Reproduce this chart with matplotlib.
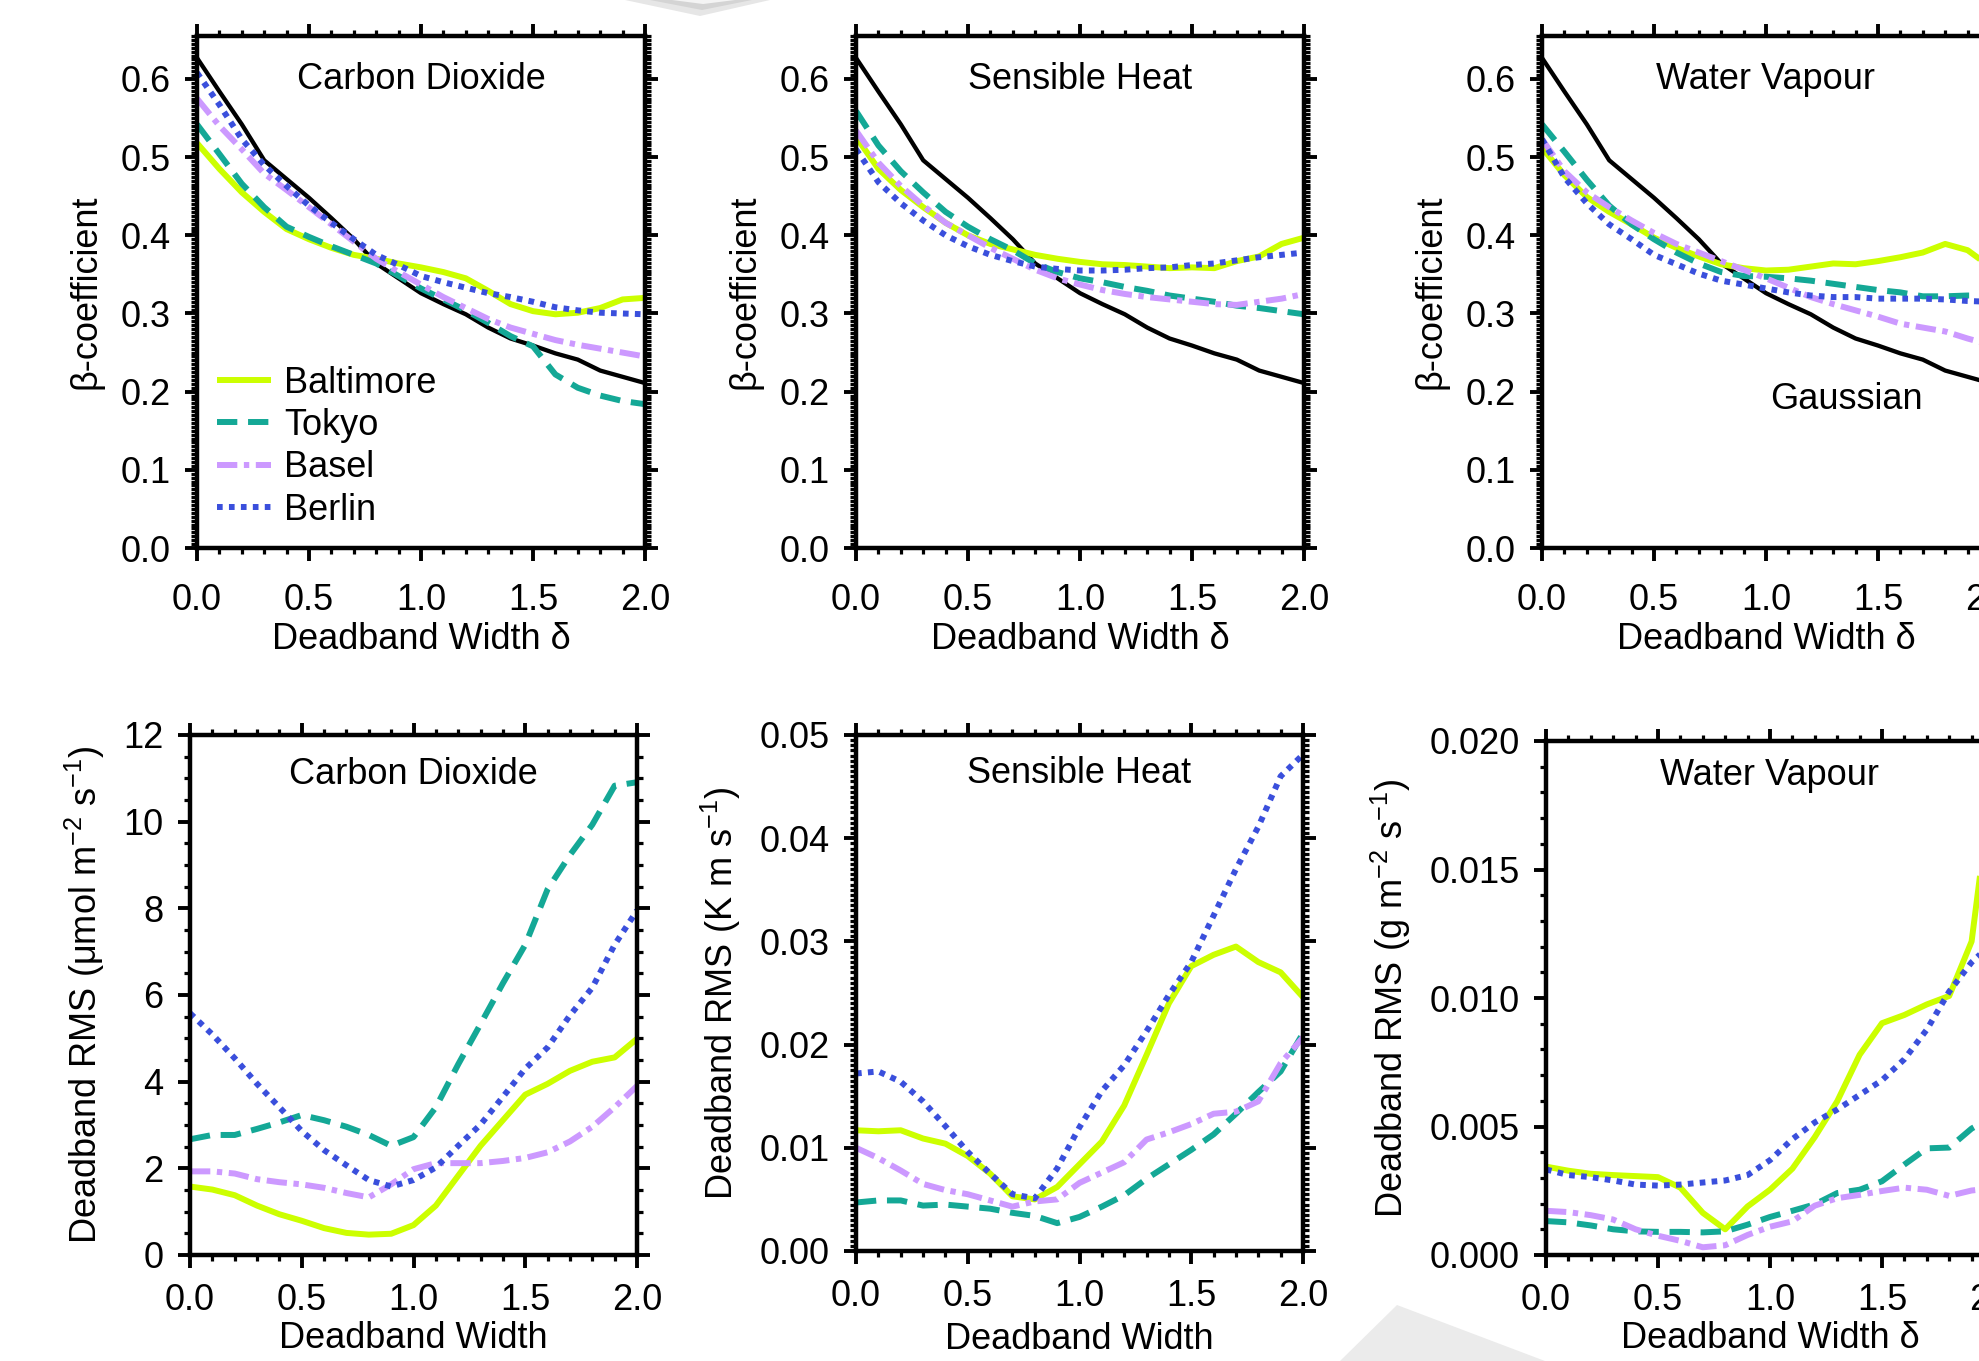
import matplotlib
matplotlib.use('Agg')
import matplotlib.pyplot as plt
from matplotlib.ticker import MultipleLocator, FormatStrFormatter
from matplotlib.patches import Polygon

plt.rcParams['font.family'] = ['Liberation Sans', 'DejaVu Sans']
plt.rcParams['mathtext.fontset'] = 'custom'
plt.rcParams['mathtext.rm'] = 'Liberation Sans'
plt.rcParams['mathtext.it'] = 'Liberation Sans:italic'
plt.rcParams['mathtext.default'] = 'regular'

# ---------------- data ----------------
deadband = [0.0, 0.1, 0.2, 0.3, 0.4, 0.5, 0.6, 0.7, 0.8, 0.9, 1.0,
            1.1, 1.2, 1.3, 1.4, 1.5, 1.6, 1.7, 1.8, 1.9, 2.0]

gaussian_beta = [0.627, 0.584, 0.542, 0.496, 0.472, 0.448, 0.422, 0.395, 0.364, 0.345, 0.326,
                 0.312, 0.299, 0.282, 0.268, 0.259, 0.249, 0.241, 0.227, 0.219, 0.211]

co2_beta_baltimore = [0.518, 0.485, 0.455, 0.430, 0.408, 0.395, 0.384, 0.375, 0.370, 0.364, 0.359,
                      0.353, 0.345, 0.329, 0.312, 0.303, 0.299, 0.301, 0.307, 0.318, 0.320]
co2_beta_tokyo = [0.542, 0.504, 0.466, 0.436, 0.411, 0.398, 0.386, 0.375, 0.364, 0.348, 0.332,
                  0.318, 0.304, 0.288, 0.271, 0.258, 0.222, 0.205, 0.195, 0.188, 0.184]
co2_beta_basel = [0.575, 0.540, 0.510, 0.479, 0.458, 0.436, 0.414, 0.392, 0.370, 0.353, 0.337,
                  0.321, 0.307, 0.293, 0.282, 0.274, 0.266, 0.260, 0.255, 0.250, 0.245]
co2_beta_berlin = [0.608, 0.567, 0.523, 0.490, 0.463, 0.438, 0.416, 0.395, 0.375, 0.362, 0.348,
                   0.340, 0.333, 0.326, 0.321, 0.315, 0.308, 0.304, 0.301, 0.300, 0.299]

sh_beta_baltimore = [0.526, 0.485, 0.458, 0.436, 0.416, 0.400, 0.389, 0.382, 0.375, 0.370, 0.366,
                     0.363, 0.362, 0.360, 0.358, 0.359, 0.358, 0.367, 0.373, 0.389, 0.397]
sh_beta_tokyo = [0.559, 0.515, 0.482, 0.455, 0.430, 0.411, 0.395, 0.381, 0.364, 0.353, 0.345,
                 0.340, 0.334, 0.329, 0.323, 0.319, 0.315, 0.310, 0.307, 0.303, 0.299]
sh_beta_basel = [0.534, 0.493, 0.463, 0.438, 0.416, 0.400, 0.384, 0.370, 0.356, 0.345, 0.337,
                 0.330, 0.325, 0.321, 0.318, 0.315, 0.312, 0.311, 0.315, 0.319, 0.325]
sh_beta_berlin = [0.510, 0.468, 0.441, 0.419, 0.400, 0.386, 0.375, 0.367, 0.360, 0.357, 0.355,
                  0.355, 0.356, 0.358, 0.359, 0.362, 0.364, 0.368, 0.372, 0.375, 0.378]

wv_beta_baltimore = [0.512, 0.477, 0.449, 0.430, 0.414, 0.397, 0.384, 0.373, 0.363, 0.358, 0.355,
                     0.356, 0.360, 0.364, 0.363, 0.367, 0.372, 0.378, 0.389, 0.381, 0.360]
wv_beta_tokyo = [0.542, 0.507, 0.471, 0.438, 0.414, 0.395, 0.378, 0.364, 0.353, 0.348, 0.347,
                 0.345, 0.342, 0.338, 0.334, 0.330, 0.327, 0.322, 0.322, 0.323, 0.323]
wv_beta_basel = [0.523, 0.482, 0.455, 0.436, 0.419, 0.403, 0.389, 0.378, 0.367, 0.356, 0.345,
                 0.333, 0.321, 0.312, 0.304, 0.296, 0.287, 0.282, 0.277, 0.268, 0.260]
wv_beta_berlin = [0.523, 0.474, 0.441, 0.414, 0.395, 0.375, 0.363, 0.351, 0.342, 0.337, 0.332,
                  0.327, 0.323, 0.321, 0.321, 0.319, 0.319, 0.319, 0.318, 0.316, 0.315]

co2_rms_baltimore = [1.58, 1.51, 1.38, 1.14, 0.94, 0.79, 0.62, 0.51, 0.47, 0.49, 0.69,
                     1.14, 1.83, 2.52, 3.11, 3.70, 3.95, 4.25, 4.46, 4.56, 4.99]
co2_rms_tokyo = [2.67, 2.77, 2.77, 2.91, 3.06, 3.23, 3.11, 2.96, 2.77, 2.52, 2.72,
                 3.41, 4.40, 5.33, 6.27, 7.16, 8.44, 9.23, 9.93, 10.83, 10.91]
co2_rms_basel = [1.93, 1.93, 1.88, 1.75, 1.68, 1.63, 1.55, 1.43, 1.33, 1.63, 1.98,
                 2.12, 2.12, 2.12, 2.17, 2.24, 2.37, 2.62, 2.96, 3.41, 3.90]
co2_rms_berlin = [5.58, 5.09, 4.54, 3.95, 3.41, 2.86, 2.42, 2.07, 1.73, 1.58, 1.73,
                  2.02, 2.52, 3.01, 3.65, 4.30, 4.79, 5.53, 6.17, 7.16, 7.95]

sh_rms_baltimore = [0.0117, 0.0116, 0.0117, 0.0109, 0.0104, 0.0092, 0.0075, 0.0053, 0.0050, 0.0062, 0.0084,
                    0.0106, 0.0141, 0.0190, 0.0240, 0.0276, 0.0287, 0.0295, 0.0280, 0.0270, 0.0246]
sh_rms_tokyo = [0.0047, 0.0049, 0.0049, 0.0044, 0.0045, 0.0043, 0.0041, 0.0037, 0.0034, 0.0027, 0.0033,
                0.0043, 0.0054, 0.0070, 0.0084, 0.0098, 0.0113, 0.0133, 0.0154, 0.0174, 0.0211]
sh_rms_basel = [0.0100, 0.0090, 0.0078, 0.0065, 0.0059, 0.0055, 0.0049, 0.0043, 0.0048, 0.0050, 0.0066,
                0.0076, 0.0086, 0.0108, 0.0115, 0.0123, 0.0133, 0.0135, 0.0145, 0.0182, 0.0207]
sh_rms_berlin = [0.0172, 0.0174, 0.0164, 0.0145, 0.0121, 0.0096, 0.0075, 0.0055, 0.0051, 0.0080, 0.0120,
                 0.0155, 0.0180, 0.0213, 0.0248, 0.0280, 0.0325, 0.0370, 0.0411, 0.0460, 0.0481]

wv_rms_baltimore = [0.00344, 0.00328, 0.00316, 0.00311, 0.00307, 0.00303, 0.00262, 0.00164, 0.00100, 0.00189, 0.00254,
                    0.00336, 0.00459, 0.00598, 0.00779, 0.00902, 0.00934, 0.00975, 0.01008, 0.01220, 0.01900]
wv_rms_tokyo = [0.00132, 0.00127, 0.00115, 0.00100, 0.00092, 0.00090, 0.00090, 0.00088, 0.00092, 0.00118, 0.00148,
                0.00172, 0.00197, 0.00241, 0.00254, 0.00287, 0.00352, 0.00415, 0.00418, 0.00492, 0.00540]
wv_rms_basel = [0.00172, 0.00167, 0.00155, 0.00138, 0.00100, 0.00075, 0.00055, 0.00030, 0.00038, 0.00078, 0.00110,
                0.00131, 0.00192, 0.00221, 0.00234, 0.00249, 0.00262, 0.00254, 0.00230, 0.00251, 0.00260]
wv_rms_berlin = [0.00333, 0.00311, 0.00303, 0.00290, 0.00274, 0.00270, 0.00274, 0.00282, 0.00290, 0.00311, 0.00369,
                 0.00451, 0.00516, 0.00566, 0.00623, 0.00680, 0.00762, 0.00877, 0.01025, 0.01139, 0.01220]

cities = ['Baltimore', 'Tokyo', 'Basel', 'Berlin']
panel_titles = ['Carbon Dioxide', 'Sensible Heat', 'Water Vapour']

# ---------------- styles ----------------
city_style = {
    'Baltimore': dict(color='#ccff00', linestyle='-'),
    'Tokyo': dict(color='#14a896', dashes=(3.4, 1.8)),
    'Basel': dict(color='#cc99ff', dashes=(3.4, 1.1, 0.9, 1.1)),
    'Berlin': dict(color='#3a4fdc', dashes=(0.95, 1.05)),
}
LW = 4.3
FS = 26

W, H = 1979, 1361
fig = plt.figure(figsize=(W / 100, H / 100), dpi=100)
fig.patch.set_facecolor('white')


def make_axes(l, r, t, b):
    return fig.add_axes([l / W, 1 - b / H, (r - l) / W, (b - t) / H])


def style_axes(ax, ymax, ymajor, yminor, yfmt, xpad):
    ax.set_xlim(0, 2.0)
    ax.set_ylim(0, ymax)
    ax.xaxis.set_major_locator(MultipleLocator(0.5))
    ax.xaxis.set_minor_locator(MultipleLocator(0.1))
    ax.yaxis.set_major_locator(MultipleLocator(ymajor))
    ax.yaxis.set_minor_locator(MultipleLocator(yminor))
    ax.xaxis.set_major_formatter(FormatStrFormatter('%.1f'))
    ax.yaxis.set_major_formatter(FormatStrFormatter(yfmt))
    for s in ax.spines.values():
        s.set_linewidth(3.2)
    ax.tick_params(which='both', direction='out', top=True, right=True,
                   labelsize=FS, colors='black')
    ax.tick_params(which='major', length=9, width=2.8)
    ax.tick_params(which='minor', length=4.5, width=2.3)
    ax.tick_params(axis='x', which='major', pad=xpad)
    ax.tick_params(axis='y', which='major', pad=10)


def plot_cities(ax, series):
    for city, vals in zip(cities, series):
        ax.plot(deadband, vals, lw=LW, label=city, solid_capstyle='butt',
                dash_capstyle='butt', **city_style[city])


# ---------------- top row: beta coefficient ----------------
top_pos = [(197, 645, 36, 548), (856, 1304, 36, 548), (1542, 1990, 36, 548)]
beta_series = [
    [co2_beta_baltimore, co2_beta_tokyo, co2_beta_basel, co2_beta_berlin],
    [sh_beta_baltimore, sh_beta_tokyo, sh_beta_basel, sh_beta_berlin],
    [wv_beta_baltimore, wv_beta_tokyo, wv_beta_basel, wv_beta_berlin],
]
top_axes = []
for pos, series, title in zip(top_pos, beta_series, panel_titles):
    ax = make_axes(*pos)
    ax.plot(deadband, gaussian_beta, color='black', lw=3.1, label='_gaussian')
    plot_cities(ax, series)
    style_axes(ax, 0.655, 0.1, 0.005, '%.1f', 16)
    ax.text(0.5, 0.915, title, transform=ax.transAxes, ha='center', va='center', fontsize=FS)
    ax.set_ylabel('β-coefficient', fontsize=FS, labelpad=12)
    ax.set_xlabel('Deadband Width δ', fontsize=FS, labelpad=3)
    top_axes.append(ax)

# legend in first panel (cities only)
top_axes[0].legend(loc='lower left', bbox_to_anchor=(0.045, 0.04), frameon=False,
                   fontsize=FS, handlelength=1.5, handletextpad=0.35,
                   labelspacing=0.2, borderpad=0.0, borderaxespad=0.0)

top_axes[2].text(1.36, 0.19, 'Gaussian', ha='center', va='center', fontsize=FS)

# ---------------- bottom row: deadband RMS ----------------
bot_pos = [(190, 637, 735, 1255), (856, 1303, 735, 1251), (1546, 1994, 741, 1255)]
rms_series = [
    [co2_rms_baltimore, co2_rms_tokyo, co2_rms_basel, co2_rms_berlin],
    [sh_rms_baltimore, sh_rms_tokyo, sh_rms_basel, sh_rms_berlin],
    [wv_rms_baltimore, wv_rms_tokyo, wv_rms_basel, wv_rms_berlin],
]
bot_ylim = [(12, 2, 0.5, '%d'), (0.05, 0.01, 0.0005, '%.2f'), (0.020, 0.005, 0.001, '%.3f')]
bot_ylabels = [r'Deadband RMS (μmol m$^{-2}$ s$^{-1}$)',
               r'Deadband RMS (K m s$^{-1}$)',
               r'Deadband RMS (g m$^{-2}$ s$^{-1}$)']
bot_xlabels = ['Deadband Width', 'Deadband Width', 'Deadband Width δ']
title_y = [0.925, 0.925, 0.932]
xlabel_pad = [2, 6, 2]
for pos, series, title, yl, ylab, xlab, ty, xp in zip(bot_pos, rms_series, panel_titles, bot_ylim,
                                                      bot_ylabels, bot_xlabels, title_y, xlabel_pad):
    ax = make_axes(*pos)
    plot_cities(ax, series)
    style_axes(ax, yl[0], yl[1], yl[2], yl[3], 11)
    ax.text(0.5, ty, title, transform=ax.transAxes, ha='center', va='center', fontsize=FS)
    ax.set_ylabel(ylab, fontsize=FS, labelpad=12)
    ax.set_xlabel(xlab, fontsize=FS, labelpad=xp)

# ---------------- background decorations ----------------
fig.patches.append(Polygon([[1340 / W, 0], [1397 / W, 1 - 1305 / H], [1545 / W, 0]],
                           closed=True, transform=fig.transFigure, facecolor='#ebebeb',
                           edgecolor='none', zorder=-5))
fig.patches.append(Polygon([[625 / W, 1], [700 / W, 1 - 16 / H], [770 / W, 1]],
                           closed=True, transform=fig.transFigure, facecolor='#e6e6e6',
                           edgecolor='none', zorder=-6))
fig.patches.append(Polygon([[650 / W, 1], [702 / W, 1 - 10 / H], [752 / W, 1]],
                           closed=True, transform=fig.transFigure, facecolor='#d4d4d4',
                           edgecolor='none', zorder=-5))
fig.patches.append(Polygon([[672 / W, 1], [703 / W, 1 - 4 / H], [735 / W, 1]],
                           closed=True, transform=fig.transFigure, facecolor='#f4f4f4',
                           edgecolor='none', zorder=-4))

fig.savefig('out.png', dpi=100, facecolor='white')
